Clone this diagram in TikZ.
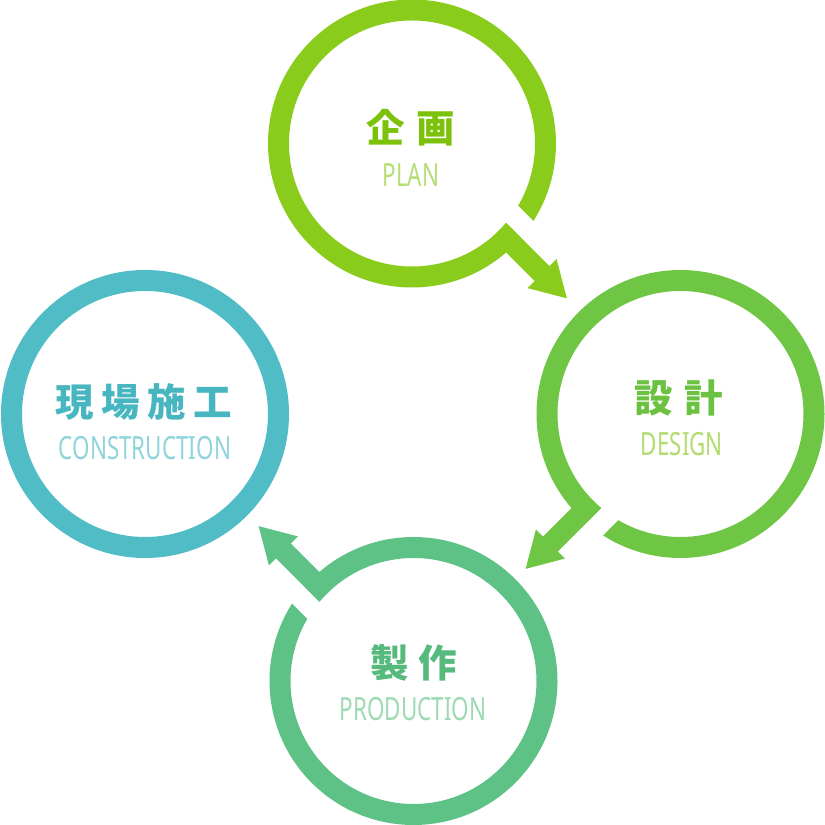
\documentclass[tikz,border=0pt]{standalone}
\usepackage{fontspec}
\newfontfamily\cjk{Noto Sans CJK JP}
\newfontfamily\latc{Noto Sans}[FakeStretch=0.70]
\definecolor{cT}{HTML}{8ACC1B}
\definecolor{cTt}{HTML}{7DC20A}
\definecolor{cTl}{HTML}{B6DD74}
\definecolor{cR}{HTML}{6EC644}
\definecolor{cRt}{HTML}{6BC241}
\definecolor{cRl}{HTML}{B1DC6F}
\definecolor{cB}{HTML}{5EC287}
\definecolor{cBt}{HTML}{56BA7C}
\definecolor{cBl}{HTML}{9DDAB3}
\definecolor{cL}{HTML}{4FBCC6}
\definecolor{cLt}{HTML}{47B6C0}
\definecolor{cLl}{HTML}{8FD3DB}
\begin{document}
\begin{tikzpicture}[x=1pt,y=1pt,
  ring/.style={line width=21pt},
  jp/.style={font=\cjk\bfseries\fontsize{38.5}{40}\selectfont, inner sep=0pt, anchor=center},
  en/.style={font=\latc\fontsize{32}{34}\selectfont, inner sep=0pt, anchor=base}]
\useasboundingbox (0,0) rectangle (825,825);
% arrow shape: shaft + head, in local coordinates (u along arrow)
\def\arrowshape{(123,-10.5) -- (184,-10.5) -- (184,-20.5) -- (219,0) -- (184,20.5) -- (184,10.5) -- (123,10.5) -- cycle}
% top ring (PLAN)
\begin{scope}[shift={(412,681.5)}, rotate=-45]
  \draw[ring, draw=cT] (0,0) circle[radius=133.5];
  \fill[white] (110,10.5) rectangle (152,31);
  \fill[cT] \arrowshape;
\end{scope}
% right ring (DESIGN)
\begin{scope}[shift={(680.5,411)}, rotate=225]
  \draw[ring, draw=cR] (0,0) circle[radius=133.5];
  \fill[white] (110,10.5) rectangle (152,31);
  \fill[cR] \arrowshape;
\end{scope}
% bottom ring (PRODUCTION)
\begin{scope}[shift={(413.5,144)}, rotate=135]
  \draw[ring, draw=cB] (0,0) circle[radius=133.5];
  \fill[white] (110,10.5) rectangle (152,31);
  \fill[cB] \arrowshape;
\end{scope}
% left ring (CONSTRUCTION)
\draw[ring, draw=cL] (145,411) circle[radius=133.5];
% texts
\node[jp, text=cTt] (plan-jp) at (410.5,697) {企\kern12pt画};
\node[en, text=cTl] (plan-en) at (411,638) {PLAN};
\node[jp, text=cRt] (design-jp) at (679,427.5) {設\kern12pt計};
\node[en, text=cRl] (design-en) at (682,369) {DESIGN};
\node[jp, text=cBt] (prod-jp) at (414,162.5) {製\kern10pt作};
\node[en, text=cBl] (prod-en) at (413,104) {PRODUCTION};
\node[jp, text=cLt] (cons-jp) at (144,423.5) {現\kern7.5pt場\kern7.5pt施\kern7.5pt工};
\node[en, text=cLl] (cons-en) at (145,365) {CONSTRUCTION};
\end{tikzpicture}
\end{document}
